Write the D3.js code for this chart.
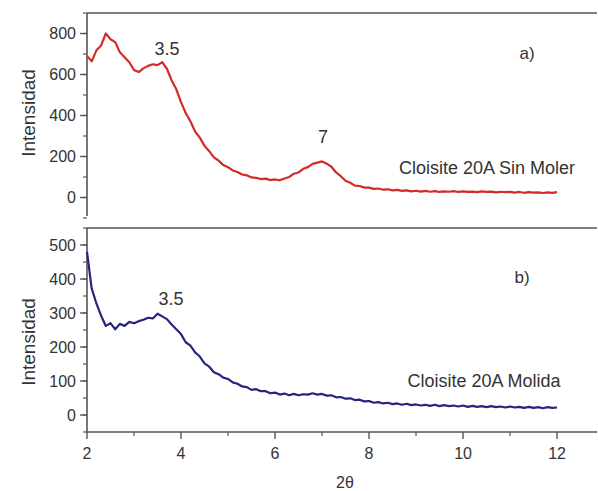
<!DOCTYPE html>
<html>
<head>
<meta charset="utf-8">
<script src="https://cdn.jsdelivr.net/npm/d3@7"></script>
<style>
  body { margin: 0; background: #fff; }
  svg text { font-family: "Liberation Sans", Arial, sans-serif; fill: #333; }
</style>
</head>
<body>
<svg id="chart" width="598" height="491"></svg>
<script>
/********************************************************
 ********************* Data *****************************
 ********************************************************/
var two_theta = [
  2.0, 2.1, 2.2, 2.3, 2.4, 2.5, 2.6, 2.7, 2.8, 2.9,
  3.0, 3.1, 3.2, 3.3, 3.4, 3.5, 3.6, 3.7, 3.8, 3.9,
  4.0, 4.1, 4.2, 4.3, 4.4, 4.5, 4.6, 4.7, 4.8, 4.9,
  5.0, 5.1, 5.2, 5.3, 5.4, 5.5, 5.6, 5.7, 5.8, 5.9,
  6.0, 6.1, 6.2, 6.3, 6.4, 6.5, 6.6, 6.7, 6.8, 6.9,
  7.0, 7.1, 7.2, 7.3, 7.4, 7.5, 7.6, 7.7, 7.8, 7.9,
  8.0, 8.1, 8.2, 8.3, 8.4, 8.5, 8.6, 8.7, 8.8, 8.9,
  9.0, 9.1, 9.2, 9.3, 9.4, 9.5, 9.6, 9.7, 9.8, 9.9,
  10.0, 10.1, 10.2, 10.3, 10.4, 10.5, 10.6, 10.7, 10.8, 10.9,
  11.0, 11.1, 11.2, 11.3, 11.4, 11.5, 11.6, 11.7, 11.8, 11.9,
  12.0
];

// Cloisite 20A Sin Moler
var sin_moler = [
  690, 664, 718, 742, 800, 772, 758, 708, 684, 660,
  622, 612, 630, 642, 650, 646, 660, 628, 572, 528,
  465, 412, 372, 322, 292, 252, 226, 196, 180, 158,
  148, 132, 124, 112, 108, 98, 96, 90, 92, 85,
  88, 84, 93, 100, 116, 122, 140, 148, 164, 170,
  176, 165, 150, 122, 104, 82, 72, 58, 56, 48,
  48, 42, 44, 38, 40, 35, 37, 32, 35, 30,
  33, 29, 32, 28, 31, 27, 30, 28, 31, 27,
  30, 27, 29, 26, 30, 27, 29, 25, 28, 26,
  27, 24, 27, 23, 26, 24, 25, 22, 25, 23,
  26
];

// Cloisite 20A Molida
var molida = [
  480, 372, 328, 292, 262, 270, 252, 268, 262, 274,
  270, 276, 280, 286, 284, 298, 290, 282, 266, 252,
  238, 214, 204, 184, 172, 152, 142, 126, 120, 110,
  106, 96, 92, 84, 82, 74, 76, 70, 70, 64,
  66, 60, 63, 58, 62, 58, 61, 60, 64, 60,
  62, 57, 58, 52, 53, 48, 49, 44, 45, 40,
  41, 36, 38, 34, 36, 32, 34, 30, 33, 29,
  31, 28, 30, 27, 30, 26, 29, 26, 28, 25,
  28, 24, 27, 24, 26, 23, 26, 23, 25, 22,
  25, 22, 24, 21, 24, 21, 23, 20, 23, 21,
  22
];

var x_ticks = [2, 4, 6, 8, 10, 12];
var top_ticks = [0, 200, 400, 600, 800];
var bottom_ticks = [0, 100, 200, 300, 400, 500];

/********************************************************
 ********************* Scales ***************************
 ********************************************************/
var svg = d3.select("#chart");
var left = 87, right = 597;
var axis_color = "#555";

var x = d3.scaleLinear().domain([2, 12.85]).range([left, right]);
var y_top = d3.scaleLinear().domain([-100, 900]).range([218, 13]);
var y_bot = d3.scaleLinear().domain([-50, 550]).range([432, 228]);

//draw one y axis with major labelled ticks and minor ticks
function draw_y_axis(scale, labelled, minor_step, top_y, bottom_y){
  var g = svg.append("g");
  g.append("line")
    .attr("x1", left).attr("x2", left)
    .attr("y1", top_y).attr("y2", bottom_y)
    .attr("stroke", axis_color).attr("stroke-width", 1.6);

  var d = scale.domain();
  var minors = d3.range(d[0], d[1] + 1, minor_step);
  g.selectAll(".minor")
    .data(minors)
    .enter().append("line")
      .attr("x1", left - 4).attr("x2", left)
      .attr("y1", function(v){ return scale(v); })
      .attr("y2", function(v){ return scale(v); })
      .attr("stroke", axis_color).attr("stroke-width", 1.2);

  g.selectAll(".major")
    .data(labelled)
    .enter().append("line")
      .attr("x1", left - 7).attr("x2", left)
      .attr("y1", function(v){ return scale(v); })
      .attr("y2", function(v){ return scale(v); })
      .attr("stroke", axis_color).attr("stroke-width", 1.4);

  g.selectAll("text")
    .data(labelled)
    .enter().append("text")
      .attr("x", left - 11)
      .attr("y", function(v){ return scale(v) + 5.5; })
      .attr("text-anchor", "end")
      .style("font-size", "16px")
      .text(function(v){ return v; });
}

function draw_curve(values, scale, color){
  var line = d3.line()
    .x(function(d, i){ return x(two_theta[i]); })
    .y(function(d){ return scale(d); });
  svg.append("path")
    .datum(values)
    .attr("d", line)
    .attr("fill", "none")
    .attr("stroke", color)
    .attr("stroke-width", 2.2)
    .attr("stroke-linejoin", "round");
}

function add_text(tx, ty, str, size, anchor){
  svg.append("text")
    .attr("x", tx).attr("y", ty)
    .attr("text-anchor", anchor || "middle")
    .style("font-size", size + "px")
    .text(str);
}

/********************************************************
 ********************* Top panel (a) ********************
 ********************************************************/
svg.append("line")
  .attr("x1", left).attr("x2", right)
  .attr("y1", 13).attr("y2", 13)
  .attr("stroke", axis_color).attr("stroke-width", 1.6);
draw_y_axis(y_top, top_ticks, 100, 13, 216);
draw_curve(sin_moler, y_top, "#d42a2a");

add_text(167, 55, "3.5", 18);
add_text(323, 143, "7", 18);
add_text(527, 59, "a)", 17);
add_text(487, 174, "Cloisite 20A Sin Moler", 18);

svg.append("text")
  .attr("transform", "translate(35,113) rotate(-90)")
  .attr("text-anchor", "middle")
  .style("font-size", "19px")
  .text("Intensidad");

/********************************************************
 ********************* Bottom panel (b) *****************
 ********************************************************/
svg.append("line")
  .attr("x1", left).attr("x2", right)
  .attr("y1", 228).attr("y2", 228)
  .attr("stroke", axis_color).attr("stroke-width", 1.6);
draw_y_axis(y_bot, bottom_ticks, 50, 228, 432);

// x axis
var xg = svg.append("g");
xg.append("line")
  .attr("x1", left).attr("x2", right)
  .attr("y1", 432).attr("y2", 432)
  .attr("stroke", axis_color).attr("stroke-width", 1.6);
xg.selectAll(".minor")
  .data(d3.range(3, 13, 2))
  .enter().append("line")
    .attr("x1", function(v){ return x(v); })
    .attr("x2", function(v){ return x(v); })
    .attr("y1", 432).attr("y2", 436)
    .attr("stroke", axis_color).attr("stroke-width", 1.2);
xg.selectAll(".major")
  .data(x_ticks)
  .enter().append("line")
    .attr("x1", function(v){ return x(v); })
    .attr("x2", function(v){ return x(v); })
    .attr("y1", 432).attr("y2", 439)
    .attr("stroke", axis_color).attr("stroke-width", 1.4);
xg.selectAll("text")
  .data(x_ticks)
  .enter().append("text")
    .attr("x", function(v){ return x(v); })
    .attr("y", 459)
    .attr("text-anchor", "middle")
    .style("font-size", "16px")
    .text(function(v){ return v; });

draw_curve(molida, y_bot, "#25257d");

add_text(171, 305, "3.5", 18);
add_text(522, 283, "b)", 17);
add_text(484, 387, "Cloisite 20A Molida", 18);

svg.append("text")
  .attr("transform", "translate(35,342) rotate(-90)")
  .attr("text-anchor", "middle")
  .style("font-size", "19px")
  .text("Intensidad");

add_text(345, 488, "2\u03b8", 16);
</script>
</body>
</html>
